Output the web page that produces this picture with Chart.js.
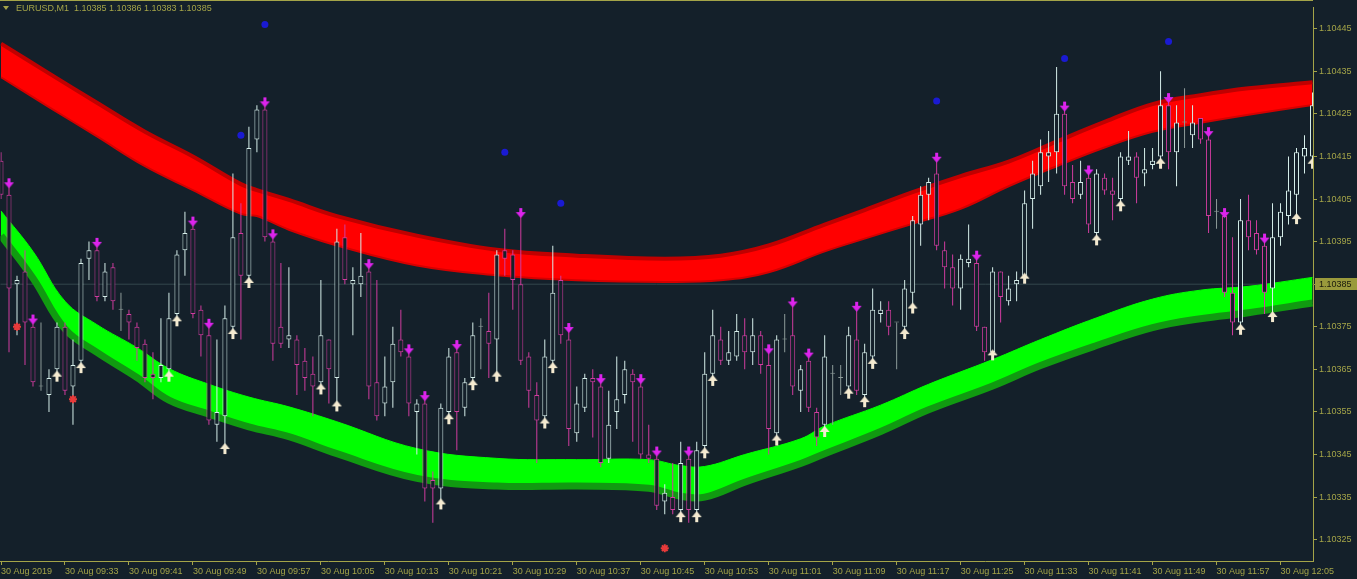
<!DOCTYPE html>
<html>
<head>
<meta charset="utf-8">
<script src="https://cdn.jsdelivr.net/npm/chart.js@4.4.1/dist/chart.umd.min.js"></script>
<style>
  html, body { margin: 0; padding: 0; background: #14202a; }
  #grafico { display: block; }
</style>
</head>
<body>
<canvas id="grafico" width="1357" height="579"></canvas>
<script>
// --- Dados do gráfico (EURUSD M1) ---
const cabecalho = 'EURUSD,M1  1.10385 1.10386 1.10383 1.10385';
const precoAtual = 1.10385;

// Rótulos do eixo X (um a cada 8 velas)
const rotulosTempo = ['30 Aug 2019', '30 Aug 09:33', '30 Aug 09:41', '30 Aug 09:49', '30 Aug 09:57',
  '30 Aug 10:05', '30 Aug 10:13', '30 Aug 10:21', '30 Aug 10:29', '30 Aug 10:37', '30 Aug 10:45',
  '30 Aug 10:53', '30 Aug 11:01', '30 Aug 11:09', '30 Aug 11:17', '30 Aug 11:25', '30 Aug 11:33',
  '30 Aug 11:41', '30 Aug 11:49', '30 Aug 11:57', '30 Aug 12:05'];

// Rótulos do eixo Y
const precosEixo = [1.10325, 1.10335, 1.10345, 1.10355, 1.10365, 1.10375, 1.10385,
  1.10395, 1.10405, 1.10415, 1.10425, 1.10435, 1.10445];

// Velas (abertura, máxima, mínima, fechamento)
const open = [
  1.10414, 1.10406, 1.10385, 1.10388, 1.10375, 1.10361, 1.10359, 1.10365, 1.10375, 1.10361,
  1.10367, 1.10391, 1.10393, 1.10382, 1.10389, 1.10379, 1.10378, 1.10375, 1.10371, 1.10364,
  1.10363, 1.10365, 1.10378, 1.10393, 1.10398, 1.10379, 1.10373, 1.10352, 1.10354, 1.10375,
  1.10397, 1.10387, 1.10419, 1.10426, 1.10395, 1.10375, 1.10372, 1.10372, 1.10367, 1.10364,
  1.10362, 1.10372, 1.10363, 1.10396, 1.10385, 1.10385, 1.10388, 1.10362, 1.10357, 1.10362,
  1.10372, 1.10368, 1.10355, 1.10357, 1.10339, 1.10337, 1.10355, 1.10369, 1.10356, 1.10363,
  1.10375, 1.10374, 1.10372, 1.10393, 1.10392, 1.10385, 1.10368, 1.10359, 1.10354, 1.10367,
  1.10386, 1.10372, 1.10350, 1.10356, 1.10363, 1.10361, 1.10344, 1.10355, 1.10359, 1.10364,
  1.10361, 1.10345, 1.10344, 1.10334, 1.10335, 1.10332, 1.10344, 1.10332, 1.10347, 1.10364,
  1.10372, 1.10367, 1.10368, 1.10373, 1.10369, 1.10373, 1.10366, 1.10350, 1.10372, 1.10373,
  1.10360, 1.10367, 1.10355, 1.10352, 1.10364, 1.10363, 1.10361, 1.10372, 1.10359, 1.10368,
  1.10378, 1.10379, 1.10376, 1.10375, 1.10383, 1.10399, 1.10406, 1.10411, 1.10393, 1.10389,
  1.10384, 1.10390, 1.10390, 1.10375, 1.10369, 1.10388, 1.10381, 1.10385, 1.10387, 1.10405,
  1.10408, 1.10415, 1.10416, 1.10425, 1.10409, 1.10406, 1.10410, 1.10397, 1.10410, 1.10407,
  1.10405, 1.10414, 1.10415, 1.10411, 1.10413, 1.10415, 1.10427, 1.10416, 1.10423, 1.10420,
  1.10424, 1.10419, 1.10402, 1.10401, 1.10383, 1.10376, 1.10400, 1.10397, 1.10394, 1.10384,
  1.10396, 1.10401, 1.10406, 1.10415, 1.10415];
const high = [
  1.10416, 1.10408, 1.10387, 1.10393, 1.10376, 1.10376, 1.10365, 1.10376, 1.10376, 1.10372,
  1.10391, 1.10395, 1.10394, 1.10390, 1.10390, 1.10383, 1.10379, 1.10376, 1.10372, 1.10369,
  1.10377, 1.10383, 1.10393, 1.10402, 1.10399, 1.10380, 1.10375, 1.10372, 1.10380, 1.10411,
  1.10404, 1.10422, 1.10427, 1.10427, 1.10396, 1.10390, 1.10389, 1.10373, 1.10370, 1.10368,
  1.10386, 1.10372, 1.10398, 1.10399, 1.10389, 1.10397, 1.10389, 1.10386, 1.10368, 1.10375,
  1.10379, 1.10369, 1.10358, 1.10358, 1.10341, 1.10357, 1.10370, 1.10370, 1.10363, 1.10376,
  1.10377, 1.10383, 1.10393, 1.10398, 1.10393, 1.10401, 1.10369, 1.10362, 1.10372, 1.10394,
  1.10387, 1.10374, 1.10361, 1.10364, 1.10365, 1.10362, 1.10360, 1.10368, 1.10367, 1.10365,
  1.10362, 1.10352, 1.10345, 1.10338, 1.10343, 1.10348, 1.10345, 1.10348, 1.10369, 1.10379,
  1.10375, 1.10374, 1.10378, 1.10377, 1.10377, 1.10374, 1.10369, 1.10373, 1.10378, 1.10380,
  1.10366, 1.10368, 1.10356, 1.10373, 1.10366, 1.10366, 1.10375, 1.10379, 1.10371, 1.10384,
  1.10381, 1.10381, 1.10376, 1.10386, 1.10401, 1.10408, 1.10410, 1.10414, 1.10395, 1.10392,
  1.10392, 1.10399, 1.10391, 1.10375, 1.10389, 1.10388, 1.10387, 1.10388, 1.10407, 1.10414,
  1.10419, 1.10421, 1.10436, 1.10426, 1.10413, 1.10414, 1.10411, 1.10412, 1.10411, 1.10410,
  1.10416, 1.10421, 1.10416, 1.10417, 1.10417, 1.10435, 1.10428, 1.10427, 1.10431, 1.10427,
  1.10424, 1.10420, 1.10405, 1.10401, 1.10396, 1.10405, 1.10406, 1.10400, 1.10395, 1.10404,
  1.10404, 1.10415, 1.10417, 1.10420, 1.10430];
const low = [
  1.10405, 1.10369, 1.10373, 1.10366, 1.10361, 1.10360, 1.10355, 1.10364, 1.10359, 1.10352,
  1.10366, 1.10386, 1.10381, 1.10381, 1.10379, 1.10374, 1.10372, 1.10367, 1.10362, 1.10358,
  1.10362, 1.10364, 1.10377, 1.10387, 1.10377, 1.10368, 1.10352, 1.10348, 1.10347, 1.10374,
  1.10372, 1.10386, 1.10416, 1.10395, 1.10367, 1.10370, 1.10370, 1.10359, 1.10360, 1.10354,
  1.10361, 1.10357, 1.10357, 1.10385, 1.10373, 1.10382, 1.10358, 1.10353, 1.10354, 1.10356,
  1.10368, 1.10354, 1.10345, 1.10334, 1.10329, 1.10334, 1.10354, 1.10346, 1.10354, 1.10362,
  1.10365, 1.10363, 1.10364, 1.10387, 1.10379, 1.10366, 1.10356, 1.10343, 1.10353, 1.10366,
  1.10371, 1.10347, 1.10348, 1.10355, 1.10349, 1.10342, 1.10343, 1.10351, 1.10357, 1.10348,
  1.10344, 1.10343, 1.10332, 1.10331, 1.10331, 1.10331, 1.10329, 1.10331, 1.10346, 1.10363,
  1.10366, 1.10366, 1.10367, 1.10365, 1.10366, 1.10364, 1.10345, 1.10349, 1.10369, 1.10359,
  1.10355, 1.10355, 1.10347, 1.10351, 1.10352, 1.10359, 1.10360, 1.10359, 1.10358, 1.10367,
  1.10376, 1.10373, 1.10365, 1.10374, 1.10380, 1.10394, 1.10400, 1.10393, 1.10384, 1.10380,
  1.10379, 1.10389, 1.10374, 1.10367, 1.10369, 1.10376, 1.10380, 1.10381, 1.10387, 1.10398,
  1.10406, 1.10409, 1.10411, 1.10406, 1.10404, 1.10405, 1.10397, 1.10396, 1.10406, 1.10400,
  1.10404, 1.10413, 1.10404, 1.10408, 1.10412, 1.10414, 1.10412, 1.10408, 1.10417, 1.10417,
  1.10418, 1.10397, 1.10398, 1.10382, 1.10373, 1.10375, 1.10393, 1.10392, 1.10378, 1.10378,
  1.10394, 1.10399, 1.10401, 1.10411, 1.10414];
const close = [
  1.10406, 1.10384, 1.10386, 1.10376, 1.10362, 1.10361, 1.10363, 1.10375, 1.10360, 1.10366,
  1.10390, 1.10393, 1.10382, 1.10388, 1.10381, 1.10379, 1.10376, 1.10370, 1.10363, 1.10363,
  1.10366, 1.10377, 1.10392, 1.10397, 1.10378, 1.10373, 1.10353, 1.10355, 1.10377, 1.10396,
  1.10387, 1.10417, 1.10426, 1.10396, 1.10371, 1.10371, 1.10373, 1.10366, 1.10363, 1.10361,
  1.10373, 1.10365, 1.10395, 1.10386, 1.10386, 1.10387, 1.10361, 1.10354, 1.10361, 1.10371,
  1.10369, 1.10357, 1.10357, 1.10337, 1.10337, 1.10356, 1.10368, 1.10355, 1.10362, 1.10373,
  1.10375, 1.10371, 1.10392, 1.10391, 1.10386, 1.10367, 1.10360, 1.10353, 1.10368, 1.10383,
  1.10373, 1.10351, 1.10357, 1.10363, 1.10362, 1.10343, 1.10352, 1.10358, 1.10365, 1.10362,
  1.10345, 1.10344, 1.10333, 1.10336, 1.10332, 1.10343, 1.10332, 1.10346, 1.10364, 1.10373,
  1.10367, 1.10369, 1.10374, 1.10369, 1.10373, 1.10366, 1.10351, 1.10372, 1.10372, 1.10361,
  1.10365, 1.10356, 1.10349, 1.10368, 1.10364, 1.10363, 1.10373, 1.10360, 1.10369, 1.10379,
  1.10379, 1.10375, 1.10376, 1.10384, 1.10400, 1.10406, 1.10409, 1.10394, 1.10389, 1.10384,
  1.10391, 1.10391, 1.10375, 1.10369, 1.10388, 1.10382, 1.10384, 1.10386, 1.10404, 1.10411,
  1.10416, 1.10416, 1.10425, 1.10408, 1.10405, 1.10409, 1.10399, 1.10411, 1.10407, 1.10406,
  1.10415, 1.10415, 1.10410, 1.10412, 1.10414, 1.10427, 1.10416, 1.10423, 1.10423, 1.10423,
  1.10419, 1.10401, 1.10402, 1.10383, 1.10376, 1.10400, 1.10396, 1.10393, 1.10383, 1.10396,
  1.10402, 1.10407, 1.10416, 1.10417, 1.10427];

// Sinais do indicador (índice da vela)
const sinaisVenda = [1, 4, 12, 24, 26, 33, 34, 46, 51, 53, 57, 65, 71, 75, 80, 82, 86, 96, 99, 101,
  107, 117, 122, 133, 136, 146, 151, 153, 158];
const sinaisCompra = [7, 10, 21, 22, 28, 29, 31, 40, 42, 55, 56, 59, 62, 68, 69, 85, 87, 88, 89, 97,
  103, 106, 108, 109, 113, 114, 124, 128, 137, 140, 145, 155, 159, 162, 164];
const estrelasIdx = [30, 33, 63, 70, 117, 133, 146];
const estrelasPreco = [1.10420, 1.10446, 1.10416, 1.10404, 1.10428, 1.10438, 1.10442];
const cruzesIdx = [2, 9, 83];
const cruzesPreco = [1.10375, 1.10358, 1.10323];

// Faixa vermelha (bordas superior e inferior)
const faixaVermIdx = [0, 6, 12, 18, 24, 30, 32, 36, 42, 52, 62, 72, 83, 90, 96, 103, 108, 114, 120,
  126, 132, 138, 144, 150, 156, 164];
const faixaVermTopo = [1.104415, 1.104345, 1.104276, 1.104208, 1.104150, 1.104085, 1.104071, 1.104048,
  1.104010, 1.103964, 1.103931, 1.103917, 1.103910, 1.103917, 1.103941, 1.103990, 1.104024, 1.104066,
  1.104104, 1.104138, 1.104185, 1.104231, 1.104273, 1.104294, 1.104310, 1.104324];
const faixaVermBase = [1.104336, 1.104266, 1.104197, 1.104127, 1.104071, 1.104015, 1.104010, 1.103978,
  1.103941, 1.103894, 1.103871, 1.103859, 1.103855, 1.103859, 1.103878, 1.103927, 1.103957, 1.103992,
  1.104027, 1.104080, 1.104127, 1.104171, 1.104208, 1.104229, 1.104248, 1.104271];

// Faixa verde (bordas superior e inferior)
const faixaVerdeIdx = [0, 4, 8, 12, 17, 21, 26, 31, 36, 42, 52, 62, 72, 81, 85, 88, 93, 100, 103,
  110, 116, 124, 130, 137, 144, 150, 156, 164];
const faixaVerdeTopo = [1.104022, 1.103927, 1.103810, 1.103755, 1.103701, 1.103652, 1.103615, 1.103585,
  1.103562, 1.103527, 1.103464, 1.103441, 1.103438, 1.103438, 1.103424, 1.103422, 1.103450, 1.103487,
  1.103517, 1.103566, 1.103615, 1.103673, 1.103720, 1.103771, 1.103815, 1.103836, 1.103845, 1.103866];
const faixaVerdeBase = [1.103964, 1.103864, 1.103745, 1.103690, 1.103631, 1.103578, 1.103545, 1.103515,
  1.103492, 1.103452, 1.103394, 1.103376, 1.103376, 1.103371, 1.103352, 1.103350, 1.103385, 1.103429,
  1.103452, 1.103504, 1.103555, 1.103611, 1.103659, 1.103706, 1.103748, 1.103769, 1.103783, 1.103806];

// --- Cores ---
const FUNDO = '#14202a';
const OLIVA = '#a4a448';
const ALTA = '#d6eeea';
const BAIXA = '#d03c9f';
const DOJI = '#8d9b99';

const corVela = i => close[i] > open[i] ? ALTA : (close[i] < open[i] ? BAIXA : DOJI);
const velas = open.map((o, i) => i);

// Setas desenhadas num canvas pequeno (usadas como pointStyle)
function criaSeta(cor, paraBaixo) {
  const c = document.createElement('canvas');
  c.width = 11; c.height = 24;
  const g = c.getContext('2d');
  g.fillStyle = cor;
  g.beginPath();
  if (paraBaixo) {
    g.fillRect(4, 4, 3, 6);
    g.moveTo(0.5, 8); g.lineTo(10.5, 8); g.lineTo(5.5, 14);
  } else {
    g.fillRect(4, 14, 3, 6);
    g.moveTo(5.5, 9); g.lineTo(0.5, 15); g.lineTo(10.5, 15);
  }
  g.closePath();
  g.fill();
  return c;
}
const setaBaixo = criaSeta('#dc24ec', true);
const setaCima = criaSeta('#f4ead0', false);

// Cabeçalho, borda do topo e etiqueta do preço atual
const decoracao = {
  id: 'decoracao',
  beforeDraw(chart) {
    const c = chart.ctx;
    c.save();
    c.fillStyle = FUNDO;
    c.fillRect(0, 0, chart.width, chart.height);
    c.restore();
  },
  afterDraw(chart) {
    const c = chart.ctx, area = chart.chartArea;
    c.save();
    c.fillStyle = OLIVA;
    c.fillRect(0, 0, area.right, 1);
    c.beginPath(); c.moveTo(3, 6); c.lineTo(9, 6); c.lineTo(6, 10); c.closePath(); c.fill();
    c.font = '9px "Liberation Sans", Arial, sans-serif';
    c.textBaseline = 'middle';
    c.fillText(cabecalho, 16, 9);
    const py = Math.round(chart.scales.y.getPixelForValue(precoAtual));
    c.fillStyle = '#9a9a3c';
    c.fillRect(area.right + 2, py - 6, chart.width - area.right - 2, 12);
    c.fillStyle = '#1a1a0c';
    c.fillText(precoAtual.toFixed(5), area.right + 6, py + 0.5);
    c.restore();
  }
};

const fonteEixo = { family: '"Liberation Sans", Arial, sans-serif', size: 9 };

// Cria o gráfico
new Chart(document.getElementById('grafico'), {
  type: 'bar',
  data: {
    datasets: [
      { // faixa verde - borda superior
        type: 'line', order: 7,
        data: faixaVerdeIdx.map((x, k) => ({ x, y: faixaVerdeTopo[k] })),
        borderColor: '#00ff00', borderWidth: 1, pointRadius: 0, tension: 0.4, fill: false
      },
      { // faixa verde - borda inferior (preenche até a superior)
        type: 'line', order: 6,
        data: faixaVerdeIdx.map((x, k) => ({ x, y: faixaVerdeBase[k] })),
        borderColor: '#119a11', borderWidth: 7, pointRadius: 0, tension: 0.4,
        fill: '-1', backgroundColor: '#00ff00'
      },
      { // faixa vermelha - borda superior
        type: 'line', order: 4,
        data: faixaVermIdx.map((x, k) => ({ x, y: faixaVermTopo[k] })),
        borderColor: '#c00000', borderWidth: 4, pointRadius: 0, tension: 0.4, fill: false
      },
      { // faixa vermelha - borda inferior
        type: 'line', order: 5,
        data: faixaVermIdx.map((x, k) => ({ x, y: faixaVermBase[k] })),
        borderColor: '#d40000', borderWidth: 2, pointRadius: 0, tension: 0.4,
        fill: '-1', backgroundColor: '#ff0000'
      },
      { // linha do preço atual
        type: 'line', order: 8,
        data: [{ x: -1, y: precoAtual }, { x: 166, y: precoAtual }],
        borderColor: '#34464c', borderWidth: 1, pointRadius: 0
      },
      { // pavios
        order: 2, grouped: false,
        data: velas.map(i => ({ x: i, y: [low[i], high[i]] })),
        backgroundColor: velas.map(corVela), borderWidth: 0,
        barThickness: 1, minBarLength: 1, inflateAmount: 0
      },
      { // corpos
        order: 1, grouped: false,
        data: velas.map(i => ({ x: i, y: [Math.min(open[i], close[i]), Math.max(open[i], close[i])] })),
        backgroundColor: FUNDO, borderColor: velas.map(corVela), borderWidth: 1,
        borderSkipped: false, barThickness: 5, minBarLength: 1, inflateAmount: 0
      },
      { // setas de venda
        type: 'line', order: 0, showLine: false,
        data: sinaisVenda.map(i => ({ x: i, y: high[i] })),
        pointStyle: setaBaixo, pointRadius: 6
      },
      { // setas de compra
        type: 'line', order: 0, showLine: false,
        data: sinaisCompra.map(i => ({ x: i, y: low[i] })),
        pointStyle: setaCima, pointRadius: 6
      },
      { // estrelas azuis
        type: 'line', order: 0, showLine: false,
        data: estrelasIdx.map((x, k) => ({ x, y: estrelasPreco[k] })),
        pointStyle: 'circle', pointRadius: 3.5, pointBackgroundColor: '#1a1ad2', pointBorderWidth: 0
      },
      { // cruzes vermelhas
        type: 'line', order: 0, showLine: false,
        data: cruzesIdx.map((x, k) => ({ x, y: cruzesPreco[k] })),
        pointStyle: 'star', pointRadius: 4, pointBorderColor: '#e83a3a', pointBorderWidth: 2
      }
    ]
  },
  options: {
    responsive: false,
    animation: false,
    events: [],
    layout: { autoPadding: false, padding: { top: 2, left: 0, right: 0, bottom: 0 } },
    plugins: { legend: { display: false }, tooltip: { enabled: false } },
    scales: {
      x: {
        type: 'linear', min: -0.0625, max: 164.0625, offset: false,
        afterBuildTicks: s => { s.ticks = rotulosTempo.map((t, k) => ({ value: k * 8 })); },
        afterFit: s => { s.height = 18; },
        ticks: {
          callback: v => rotulosTempo[Math.round(v / 8)],
          align: 'start', maxRotation: 0, autoSkip: false, padding: 1,
          color: OLIVA, font: fonteEixo
        },
        grid: { drawOnChartArea: false, offset: false, tickLength: 4, color: OLIVA },
        border: { color: OLIVA }
      },
      y: {
        position: 'right', min: 1.1032, max: 1.1045,
        afterBuildTicks: s => { s.ticks = precosEixo.map(v => ({ value: v })); },
        afterFit: s => { s.width = 44; },
        ticks: { callback: v => v.toFixed(5), color: OLIVA, font: fonteEixo, padding: 2 },
        grid: { drawOnChartArea: false, tickLength: 4, color: OLIVA },
        border: { color: OLIVA }
      }
    }
  },
  plugins: [decoracao]
});
</script>
</body>
</html>
